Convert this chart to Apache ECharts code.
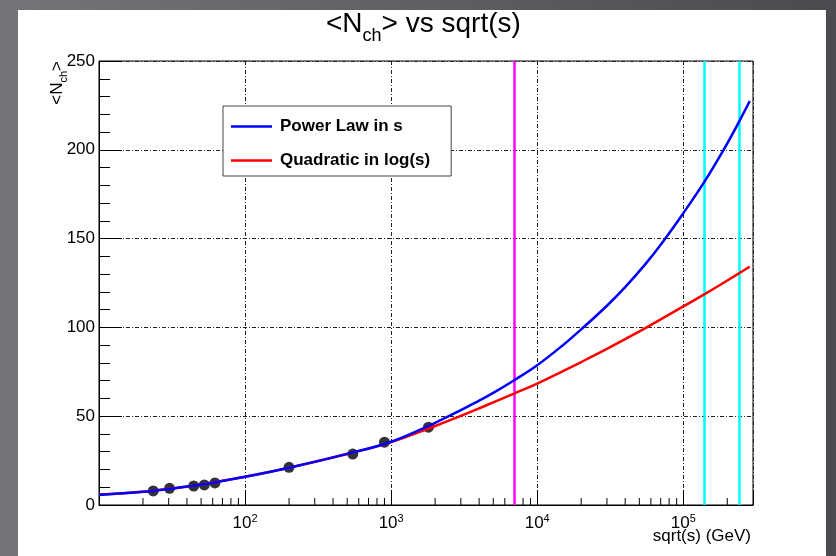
<!DOCTYPE html>
<html>
<head>
<meta charset="utf-8">
<title>&lt;Nch&gt; vs sqrt(s)</title>
<script src="https://cdn.jsdelivr.net/npm/echarts@6/dist/echarts.min.js"></script>
<style>
  html, body { margin: 0; padding: 0; background: #5f5c62; }
  #chart { width: 836px; height: 556px; }
</style>
</head>
<body>
<div id="chart"></div>
<script>
// Measured mean charged multiplicity vs collision energy
const measuredSqrtS = [23.5, 30.4, 44.5, 52.6, 62.2, 200, 546, 900, 1800];
const measuredNch   = [7.9, 9.4, 10.7, 11.3, 12.4, 21.2, 28.7, 35.4, 43.8];

// Fitted curves, sampled along sqrt(s)
const curveSqrtS   = [10, 20, 30, 50, 100, 200, 500, 1000, 2000, 3000, 4000, 5000, 7000,
                      10000, 15000, 20000, 30000, 40000, 55000, 70000, 100000,
                      140000, 190000, 240000, 285000];
const powerLawNch  = [5.6, 7.4, 9.0, 11.5, 15.9, 21.0, 28.8, 35.6, 46.3, 53.4, 58.8, 63.1, 70.4,
                      78.7, 90.0, 98.9, 112.2, 122.7, 135.6, 146.5, 164.3,
                      182.2, 200.4, 215.6, 227.5];
const quadLogNch   = [5.9, 7.5, 9.1, 11.6, 15.9, 21.0, 28.7, 35.4, 44.5, 50.2, 54.4, 57.8, 62.9,
                      68.4, 75.4, 80.5, 87.9, 93.4, 99.6, 104.5, 111.8,
                      118.7, 125.3, 130.4, 134.2];

// Reference energies marked by vertical lines
const markerEnergies = [7000, 140000, 240000];
const markerColors   = ['#ff00ff', '#00ffff', '#00ffff'];

// Minor tick positions on the log x axis
const xMinorTicks = [20, 30, 40, 50, 60, 70, 80, 90,
                     200, 300, 400, 500, 600, 700, 800, 900,
                     2000, 3000, 4000, 5000, 6000, 7000, 8000, 9000,
                     20000, 30000, 40000, 50000, 60000, 70000, 80000, 90000,
                     200000];

const seriesNames = ['Power Law in s', 'Quadratic in log(s)'];

const FONT = 'Liberation Sans';
const gridDash = [4, 2, 1, 2];

const chart = echarts.init(document.getElementById('chart'), null, { renderer: 'canvas' });

const zip = (xs, ys) => xs.map((x, i) => [x, ys[i]]);

const option = {
  animation: false,
  backgroundColor: 'transparent',
  graphic: [
    {
      type: 'rect', z: -100, silent: true,
      shape: { x: 0, y: 0, width: 836, height: 556 },
      style: {
        fill: {
          type: 'linear', x: 0, y: 0, x2: 1, y2: 0,
          colorStops: [
            { offset: 0, color: '#76737a' },
            { offset: 1, color: '#4c4a4e' }
          ]
        }
      }
    },
    {
      type: 'rect', z: -90, silent: true,
      shape: { x: 18, y: 10, width: 808, height: 546 },
      style: { fill: '#ffffff' }
    },
    {
      type: 'text', z: 10, silent: true,
      x: 59, y: 61, rotation: Math.PI / 2,
      style: {
        text: '{a|<N}{s|ch}{a|>}',
        align: 'right', verticalAlign: 'middle',
        rich: {
          a: { fontFamily: FONT, fontSize: 17, fill: '#000', verticalAlign: 'bottom', padding: [0, 0, 4, 0] },
          s: { fontFamily: FONT, fontSize: 11, fill: '#000', verticalAlign: 'bottom' }
        }
      }
    },
    {
      type: 'text', z: 10, silent: true,
      x: 751, y: 536,
      style: {
        text: 'sqrt(s) (GeV)',
        fontFamily: FONT, fontSize: 17, fill: '#000',
        align: 'right', verticalAlign: 'middle'
      }
    }
  ],
  title: {
    text: '{a|<N}{s|ch}{a|> vs sqrt(s)}',
    left: 326, top: 10,
    padding: 0,
    textStyle: {
      fontWeight: 'normal',
      rich: {
        a: { fontFamily: FONT, fontSize: 28, fontWeight: 'normal', color: '#000', verticalAlign: 'bottom', padding: [0, 0, 7, 0] },
        s: { fontFamily: FONT, fontSize: 18, fontWeight: 'normal', color: '#000', verticalAlign: 'bottom' }
      }
    }
  },
  legend: {
    data: seriesNames,
    orient: 'vertical',
    left: 223, top: 106,
    icon: 'rect',
    backgroundColor: '#ffffff',
    borderColor: '#444',
    borderWidth: 1,
    borderRadius: 0,
    padding: [12, 21, 7, 8],
    itemWidth: 41,
    itemHeight: 2.5,
    itemGap: 17,
    textStyle: { fontFamily: FONT, fontSize: 17, fontWeight: 'bold', color: '#000', padding: [0, 0, 0, 3] },
    z: 20
  },
  grid: {
    left: 99, right: 83, top: 61, bottom: 51,
    show: true,
    backgroundColor: '#ffffff',
    borderColor: '#000',
    borderWidth: 1
  },
  xAxis: {
    type: 'log',
    logBase: 10,
    min: 10,
    max: 300000,
    axisLine: { show: true, lineStyle: { color: '#000', width: 1 } },
    axisTick: { show: true, inside: true, length: 15, lineStyle: { color: '#000' } },
    splitLine: { show: true, lineStyle: { color: '#222', width: 1, type: gridDash } },
    axisLabel: {
      margin: 8,
      formatter: function (v) {
        const e = Math.log10(v);
        const n = Math.round(e);
        if (Math.abs(e - n) > 1e-6 || n < 2) return '';
        return '{b|10}{e|' + n + '}';
      },
      rich: {
        b: { fontFamily: FONT, fontSize: 17, color: '#000', verticalAlign: 'bottom' },
        e: { fontFamily: FONT, fontSize: 11, color: '#000', verticalAlign: 'bottom', padding: [0, 0, 8, 0] }
      }
    }
  },
  yAxis: {
    type: 'value',
    min: 0, max: 250, interval: 50,
    axisLine: { show: true, lineStyle: { color: '#000', width: 1 } },
    axisTick: { show: true, inside: true, length: 23, lineStyle: { color: '#000' } },
    minorTick: { show: true, splitNumber: 5, length: 11, lineStyle: { color: '#000' } },
    splitLine: { show: true, lineStyle: { color: '#222', width: 1, type: gridDash } },
    axisLabel: { margin: 4, fontFamily: FONT, fontSize: 17, color: '#000' }
  },
  series: [
    {
      name: 'minor ticks',
      type: 'custom',
      silent: true,
      z: 3,
      data: xMinorTicks.map(v => [v, 0]),
      renderItem: function (params, api) {
        const p = api.coord([api.value(0), 0]);
        return {
          type: 'line',
          shape: { x1: p[0], y1: p[1], x2: p[0], y2: p[1] - 7 },
          style: { stroke: '#000', lineWidth: 1 }
        };
      }
    },
    {
      name: 'data',
      type: 'scatter',
      z: 4,
      symbol: 'circle',
      symbolSize: 11,
      itemStyle: { color: '#000' },
      data: zip(measuredSqrtS, measuredNch),
      markLine: {
        silent: true,
        symbol: 'none',
        label: { show: false },
        data: markerEnergies.map((e, i) => ({
          xAxis: e,
          lineStyle: { color: markerColors[i], width: 2.5, type: 'solid' }
        }))
      }
    },
    {
      name: seriesNames[1],
      type: 'line',
      z: 5,
      smooth: 0.4,
      symbol: 'none',
      color: '#ff0000',
      lineStyle: { color: '#ff0000', width: 2.5 },
      data: zip(curveSqrtS, quadLogNch)
    },
    {
      name: seriesNames[0],
      type: 'line',
      z: 6,
      smooth: 0.4,
      symbol: 'none',
      color: '#0000ff',
      lineStyle: { color: '#0000ff', width: 2.5 },
      data: zip(curveSqrtS, powerLawNch)
    }
  ]
};

chart.setOption(option);
</script>
</body>
</html>
